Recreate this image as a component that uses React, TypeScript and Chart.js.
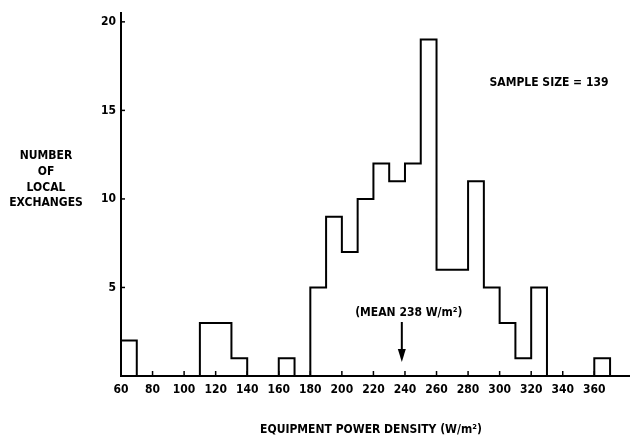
import { useEffect, useRef } from "react";
import { Chart, registerables } from "chart.js";

Chart.register(...registerables);

const binStarts = [60, 70, 80, 90, 100, 110, 120, 130, 140, 150, 160, 170, 180, 190, 200, 210, 220, 230, 240, 250, 260, 270, 280, 290, 300, 310, 320, 330, 340, 350, 360];
const counts = [2, 0, 0, 0, 0, 3, 3, 1, 0, 0, 1, 0, 5, 9, 7, 10, 12, 11, 12, 19, 6, 6, 11, 5, 3, 1, 5, 0, 0, 0, 1];
const binWidth = 10;
const xTickValues = [60, 80, 100, 120, 140, 160, 180, 200, 220, 240, 260, 280, 300, 320, 340, 360];
const yTickValues = [5, 10, 15, 20];
const yTitleLines = ["NUMBER", "OF", "LOCAL", "EXCHANGES"];
const xTitle = "EQUIPMENT POWER DENSITY (W/m²)";
const meanValue = 238;
const meanLabel = "(MEAN 238 W/m²)";
const sampleLabel = "SAMPLE SIZE = 139";

const FONT = '"Liberation Sans Narrow", "DejaVu Sans Condensed", "Roboto", sans-serif';

export default function App() {
  const ref = useRef<HTMLCanvasElement | null>(null);

  useEffect(() => {
    document.body.style.margin = "0";
    const canvas = ref.current;
    if (!canvas) return;

    const points: { x: number; y: number }[] = [{ x: binStarts[0], y: 0 }];
    binStarts.forEach((b, i) => points.push({ x: b, y: counts[i] }));
    points.push({ x: binStarts[binStarts.length - 1] + binWidth, y: 0 });

    const overlay = {
      id: "overlay",
      afterDraw(chart: any) {
        const { ctx, scales } = chart;
        const xs = scales.x;
        const ys = scales.y;
        const x0 = xs.getPixelForValue(xs.min);
        const y0 = ys.getPixelForValue(0);
        ctx.save();
        ctx.strokeStyle = "#000";
        ctx.fillStyle = "#000";
        ctx.lineWidth = 1.5;
        // inward ticks
        xTickValues.forEach((v) => {
          if (v === xs.min) return;
          const px = xs.getPixelForValue(v);
          ctx.beginPath();
          ctx.moveTo(px, y0);
          ctx.lineTo(px, y0 - 5);
          ctx.stroke();
        });
        yTickValues.forEach((v) => {
          const py = ys.getPixelForValue(v);
          ctx.beginPath();
          ctx.moveTo(x0, py);
          ctx.lineTo(x0 + 4, py);
          ctx.stroke();
        });
        // y title
        ctx.font = "bold 12px " + FONT;
        ctx.textAlign = "center";
        ctx.textBaseline = "middle";
        yTitleLines.forEach((t, i) => ctx.fillText(t, 46, 156 + i * 15.7));
        // x title
        ctx.font = "bold 12px " + FONT;
        ctx.fillText(xTitle, 371, 430);
        // sample size
        ctx.font = "bold 12px " + FONT;
        ctx.fillText(sampleLabel, 549, 83);
        // mean label + arrow
        const mx = xs.getPixelForValue(meanValue);
        ctx.font = "bold 12px " + FONT;
        ctx.fillText(meanLabel, mx + 7, 313);
        ctx.lineWidth = 2;
        ctx.beginPath();
        ctx.moveTo(mx, 322);
        ctx.lineTo(mx, 352);
        ctx.stroke();
        ctx.beginPath();
        ctx.moveTo(mx - 4, 349);
        ctx.lineTo(mx + 4, 349);
        ctx.lineTo(mx, 362);
        ctx.closePath();
        ctx.fill();
        ctx.restore();
      },
    };

    const chart = new Chart(canvas, {
      type: "line",
      data: {
        datasets: [
          {
            data: points,
            stepped: true,
            borderColor: "#000",
            borderWidth: 2,
            pointRadius: 0,
            fill: false,
          },
        ],
      },
      options: {
        responsive: false,
        animation: false,
        layout: { padding: { left: 81, right: 11, top: 13, bottom: 0 } },
        plugins: { legend: { display: false }, tooltip: { enabled: false } },
        scales: {
          x: {
            type: "linear",
            min: 60,
            max: 382,
            afterBuildTicks: (scale: any) => {
              scale.ticks = xTickValues.map((v) => ({ value: v }));
            },
            afterFit: (scale: any) => {
              scale.height = 61;
            },
            grid: { display: false, drawTicks: false },
            border: { display: true, color: "#000", width: 2 },
            ticks: {
              color: "#000",
              padding: 7,
              maxRotation: 0,
              autoSkip: false,
              font: { family: FONT, size: 12, weight: "bold" },
            },
          },
          y: {
            type: "linear",
            min: 0,
            max: 20.5,
            afterBuildTicks: (scale: any) => {
              scale.ticks = yTickValues.map((v) => ({ value: v }));
            },
            afterFit: (scale: any) => {
              scale.width = 40;
            },
            grid: { display: false, drawTicks: false },
            border: { display: true, color: "#000", width: 2 },
            ticks: {
              color: "#000",
              padding: 5,
              font: { family: FONT, size: 12, weight: "bold" },
            },
          },
        },
      },
      plugins: [overlay],
    });

    return () => chart.destroy();
  }, []);

  return (
    <div style={{ position: "fixed", left: 0, top: 0, width: 640, height: 437, background: "#fff" }}>
      <canvas ref={ref} width={640} height={437} />
    </div>
  );
}
